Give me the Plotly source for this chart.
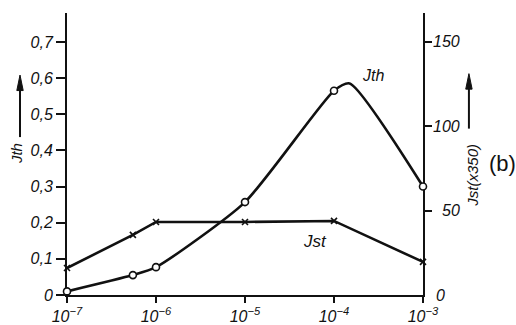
import plotly.graph_objects as go

# Jth curve: measured points (circles) and the drawn curve through the maximum
jth_x = [1e-7, 5.5e-7, 1e-6, 1e-5, 1e-4, 1.5e-4, 1e-3]
jth_y = [0.01, 0.055, 0.077, 0.257, 0.565, 0.585, 0.30]
jth_pts_x = [1e-7, 5.5e-7, 1e-6, 1e-5, 1e-4, 1e-3]
jth_pts_y = [0.01, 0.055, 0.077, 0.257, 0.565, 0.30]

# Jst (x350) on the right-hand scale
jst_x = [1e-7, 5.5e-7, 1e-6, 1e-5, 1e-4, 1e-3]
jst_y = [16, 35.6, 43.3, 43.3, 43.9, 19.6]

left_ticks = [0, 0.1, 0.2, 0.3, 0.4, 0.5, 0.6, 0.7]
left_text = ["0", "0,1", "0,2", "0,3", "0,4", "0,5", "0,6", "0,7"]
right_ticks = [50, 100, 150]
x_ticks = [1e-7, 1e-6, 1e-5, 1e-4, 1e-3]
x_text = ["10<sup>−7</sup>", "10<sup>−6</sup>", "10<sup>−5</sup>",
          "10<sup>−4</sup>", "10<sup>−3</sup>"]

FONT = "Liberation Sans"
ink = "#111111"

ymax = 0.78
y2max = ymax / 0.7 * 150

fig = go.Figure()
fig.add_trace(go.Scatter(x=jth_x, y=jth_y, mode="lines",
                         line=dict(color=ink, width=2.6, shape="spline", smoothing=0.6),
                         cliponaxis=False, hoverinfo="skip", showlegend=False))
fig.add_trace(go.Scatter(x=jst_x, y=jst_y, yaxis="y2", mode="lines+markers",
                         line=dict(color=ink, width=2.6),
                         marker=dict(symbol="x-thin", size=6,
                                     line=dict(color=ink, width=1.6)),
                         cliponaxis=False, showlegend=False))
# circles share the right-hand layer so they sit above both curves
fig.add_trace(go.Scatter(x=jth_pts_x, y=[v * y2max / ymax for v in jth_pts_y],
                         yaxis="y2", mode="markers",
                         marker=dict(symbol="circle", size=7, color="white",
                                     line=dict(color=ink, width=1.6)),
                         cliponaxis=False, showlegend=False))

fig.update_layout(
    width=516, height=325,
    margin=dict(l=67, r=93, t=13, b=30),
    paper_bgcolor="white", plot_bgcolor="white",
    font=dict(family=FONT, size=15, color=ink, style="italic"),
    xaxis=dict(type="log", range=[-7.00001, -2.99999], showgrid=False, zeroline=False,
               automargin=False, layer="below traces",
               showline=True, linecolor=ink, linewidth=2,
               ticks="outside", ticklen=6, tickwidth=1.5, tickcolor=ink,
               tickvals=x_ticks, ticktext=x_text,
               tickfont=dict(family=FONT, size=16, style="italic")),
    yaxis=dict(range=[0, ymax], showgrid=False, zeroline=False,
               automargin=False, layer="below traces",
               showline=True, linecolor=ink, linewidth=2,
               ticks="outside", ticklen=9, tickwidth=1.5, tickcolor=ink,
               tickvals=left_ticks, ticktext=left_text,
               tickfont=dict(family=FONT, size=16, style="italic")),
    yaxis2=dict(overlaying="y", side="right", range=[0, y2max],
                showgrid=False, zeroline=False,
                automargin=False, layer="below traces",
                showline=True, linecolor=ink, linewidth=2,
                ticks="outside", ticklen=7, tickwidth=1.5, tickcolor=ink,
                tickvals=right_ticks, showticklabels=False),
)

ann = []
# right-hand scale labels
for v in right_ticks:
    ann.append(dict(x=1.11, xref="paper", y=v, yref="y2", text=str(v),
                    showarrow=False, xanchor="right", yanchor="middle",
                    font=dict(size=16)))
ann.append(dict(x=1.03, xref="paper", y=0.0, yref="paper", text="0",
                showarrow=False, xanchor="left", yanchor="middle",
                font=dict(size=16)))
# axis titles
ann.append(dict(x=-0.143, y=0.50, text="Jth", textangle=-90, font=dict(size=15)))
ann.append(dict(x=1.14, y=0.426, text="Jst(x350)", textangle=-90, font=dict(size=15)))
ann.append(dict(x=1.222, y=0.468, text="(b)", font=dict(size=22, style="normal")))
# curve labels
ann.append(dict(x=0.86, y=0.78, text="Jth", font=dict(size=16)))
ann.append(dict(x=0.697, y=0.188, text="Jst", font=dict(size=17)))
for a in ann:
    a.setdefault("xref", "paper")
    a.setdefault("yref", "paper")
    a.setdefault("showarrow", False)
    a.setdefault("xanchor", "center")
    a.setdefault("yanchor", "middle")
fig.update_layout(annotations=ann)

# upward arrows beside the axis titles
def up_arrow(xp, y_tail, y_head):
    fig.add_shape(type="line", xref="paper", yref="paper",
                  x0=xp, x1=xp, y0=y_tail, y1=y_head - 0.03,
                  line=dict(color=ink, width=2))
    fig.add_shape(type="path", xref="paper", yref="paper",
                  path=f"M {xp - 0.009} {y_head - 0.055} L {xp} {y_head} "
                       f"L {xp + 0.009} {y_head - 0.055} Z",
                  fillcolor=ink, line=dict(color=ink, width=1))

up_arrow(-0.132, 0.56, 0.78)
up_arrow(1.129, 0.59, 0.785)

fig.write_html("out.html")
